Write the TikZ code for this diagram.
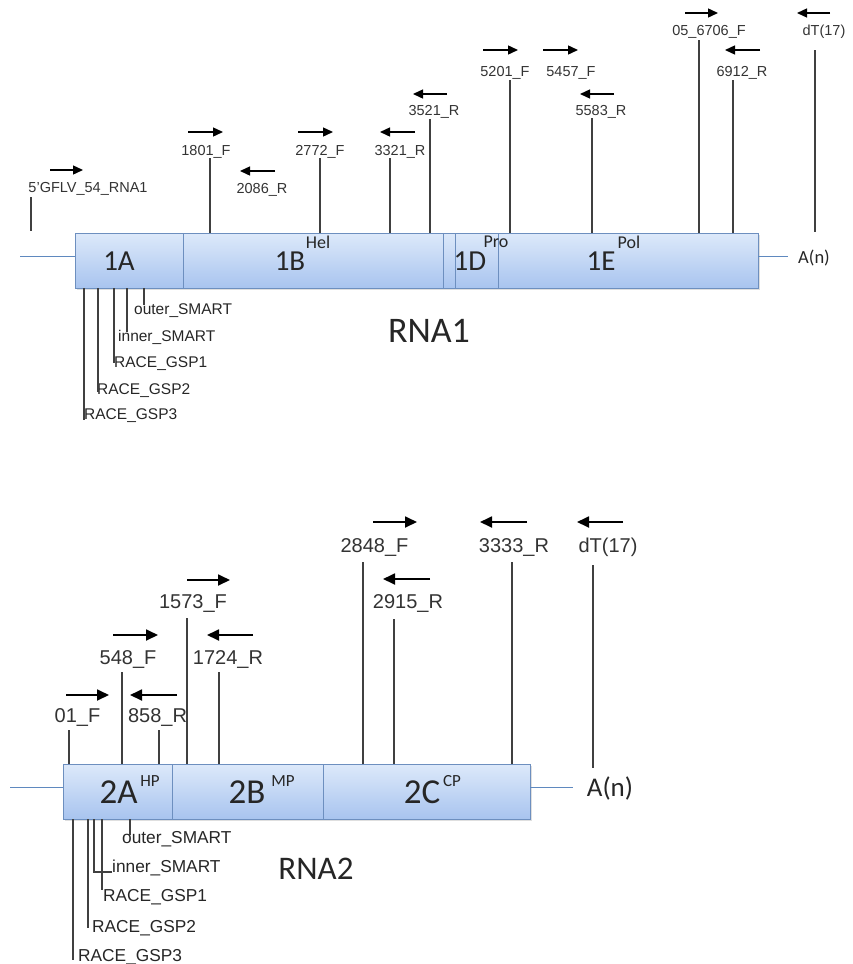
\documentclass[tikz,border=0pt]{standalone}
\usepackage{fontspec}
\setmainfont{Liberation Sans}
\newfontfamily\calfont{Carlito}
\usetikzlibrary{arrows.meta,shadows}
\definecolor{boxtop}{HTML}{DDE9FA}
\definecolor{boxbot}{HTML}{A8C4EF}
\definecolor{boxedge}{HTML}{6D8FBF}
\definecolor{bline}{HTML}{5F89BF}
\begin{document}
\begin{tikzpicture}[x=1pt,y=-1pt,
  lab1/.style={font=\fontsize{14.5}{16}\selectfont, text=black!80, inner sep=0pt},
  lab2/.style={font=\fontsize{20}{22}\selectfont, text=black!80, inner sep=0pt},
  blab1/.style={font=\fontsize{15.5}{17}\selectfont, text=black!85, inner sep=0pt, anchor=west},
  blab2/.style={font=\fontsize{17.3}{19}\selectfont, text=black!85, inner sep=0pt, anchor=west},
  pl1/.style={draw=black!75, line width=1.2pt},
  pl2/.style={draw=black!75, line width=1.4pt},
  arr1/.style={-{Triangle[length=10pt,width=9pt]}, line width=1.4pt, black},
  arr2/.style={-{Triangle[length=12pt,width=11pt]}, line width=1.8pt, black},
  rnabox/.style={rectangle, draw=boxedge, line width=0.8pt, top color=boxtop, bottom color=boxbot,
    inner sep=0pt, drop shadow={shadow xshift=1.5pt, shadow yshift=-2pt, opacity=0.25}},
  divl/.style={draw=boxedge, line width=0.8pt},
  thin/.style={draw=bline, line width=0.9pt},
  seg1/.style={font=\calfont\fontsize{29}{31}\selectfont, text=black!85, inner sep=0pt},
  sup1/.style={font=\calfont\fontsize{18}{20}\selectfont, text=black!85, inner sep=0pt},
  seg2/.style={font=\calfont\fontsize{35}{37}\selectfont, text=black!85, inner sep=0pt},
  sup2/.style={font=\calfont\fontsize{17}{19}\selectfont, text=black!85, inner sep=0pt},
  title/.style={font=\calfont\fontsize{36}{38}\selectfont, text=black!85, inner sep=0pt}
]
\useasboundingbox (0,0) rectangle (852,964);

%% ================= RNA1 =================
\coordinate (l1a) at (20,256);
\coordinate (r1b) at (788,256);
\node[rnabox, minimum width=683pt, minimum height=55pt] (box1) at (416.5,260.5) {};
\draw[thin] (l1a) -- (l1a -| box1.west);
\draw[thin] (box1.east |- r1b) -- (r1b);
\foreach \dx in {183,443,455,498} \draw[divl] (\dx,233) -- (\dx,288);

\node[seg1] (s1A) at (119,261) {1A};
\node[seg1] (s1B) at (290,261) {1B};
\node[sup1] (h1B) at (318,242) {Hel};
\node[seg1] (s1D) at (470,261) {1D};
\node[sup1] (h1D) at (496,242) {Pro};
\node[seg1] (s1E) at (601,261) {1E};
\node[sup1] (h1E) at (629,242) {Pol};
\node[font=\calfont\fontsize{18.5}{20}\selectfont, text=black!85, inner sep=0pt] (an1) at (814,258) {A(n)};
\node[title] (rna1) at (429,331) {RNA1};

% primers above RNA1
\node[lab1] (p54) at (88,189) {5'GFLV\_54\_RNA1};
\coordinate (p54t) at (31,197); \coordinate (p54b) at (31,231);
\draw[pl1] (p54t) -- (p54b);
\draw[arr1] (50,170) -- (83,170);

\node[lab1] (p1801) at (206,152) {1801\_F};
\coordinate (p1801t) at (210,158);
\draw[pl1] (p1801t) -- (p1801t |- box1.north);
\draw[arr1] (188,132) -- (223,132);

\node[lab1] (p2086) at (262,190) {2086\_R};
\draw[arr1] (275,171) -- (240,171);

\node[lab1] (p2772) at (320,152) {2772\_F};
\coordinate (p2772t) at (320,158);
\draw[pl1] (p2772t) -- (p2772t |- box1.north);
\draw[arr1] (298,132) -- (333,132);

\node[lab1] (p3321) at (400,152) {3321\_R};
\coordinate (p3321t) at (390,158);
\draw[pl1] (p3321t) -- (p3321t |- box1.north);
\draw[arr1] (415,132) -- (380,132);

\node[lab1] (p3521) at (434,112) {3521\_R};
\coordinate (p3521t) at (430,119);
\draw[pl1] (p3521t) -- (p3521t |- box1.north);
\draw[arr1] (447,94) -- (413,94);

\node[lab1] (p5201) at (505,73) {5201\_F};
\coordinate (p5201t) at (510,80);
\draw[pl1] (p5201t) -- (p5201t |- box1.north);
\draw[arr1] (483,50) -- (518,50);

\node[lab1] (p5457) at (571,73) {5457\_F};
\draw[arr1] (543,50) -- (578,50);

\node[lab1] (p5583) at (601,112) {5583\_R};
\coordinate (p5583t) at (592,118);
\draw[pl1] (p5583t) -- (p5583t |- box1.north);
\draw[arr1] (614,94) -- (580,94);

\node[lab1] (p6706) at (709,32) {05\_6706\_F};
\coordinate (p6706t) at (699,40);
\draw[pl1] (p6706t) -- (p6706t |- box1.north);
\draw[arr1] (685,13) -- (718,13);

\node[lab1] (p6912) at (742,73) {6912\_R};
\coordinate (p6912t) at (733,80);
\draw[pl1] (p6912t) -- (p6912t |- box1.north);
\draw[arr1] (760,50) -- (725,50);

\node[lab1] (pdt1) at (824,32) {dT(17)};
\coordinate (pdt1t) at (815,50); \coordinate (pdt1b) at (815,232);
\draw[pl1] (pdt1t) -- (pdt1b);
\draw[arr1] (830,13) -- (797,13);

% primers below RNA1
\node[blab1] (g3a) at (84,416) {RACE\_GSP3};
\node[blab1] (g2a) at (97,391) {RACE\_GSP2};
\node[blab1] (g1a) at (114,364) {RACE\_GSP1};
\node[blab1] (ina) at (118,337) {inner\_SMART};
\node[blab1] (oua) at (134,311) {outer\_SMART};
\coordinate (g3ab) at (84,420);
\coordinate (g2ab) at (98,392);
\coordinate (g1ab) at (114,363);
\coordinate (inab) at (127,332);
\coordinate (ouab) at (144,305);
\foreach \c in {g3ab,g2ab,g1ab,inab,ouab} \draw[pl1] (\c |- box1.south) -- (\c);

%% ================= RNA2 =================
\coordinate (l2a) at (10,787);
\coordinate (r2b) at (573,787);
\node[rnabox, minimum width=467pt, minimum height=55pt] (box2) at (296.5,791.5) {};
\draw[thin] (l2a) -- (l2a -| box2.west);
\draw[thin] (box2.east |- r2b) -- (r2b);
\foreach \dx in {172,323} \draw[divl] (\dx,764) -- (\dx,819);

\node[seg2] (s2A) at (118.5,792) {2A};
\node[sup2] (h2A) at (150,781) {HP};
\node[seg2] (s2B) at (247,792) {2B};
\node[sup2] (h2B) at (283,781) {MP};
\node[seg2] (s2C) at (422,792) {2C};
\node[sup2] (h2C) at (452,781) {CP};
\node[font=\calfont\fontsize{27}{29}\selectfont, text=black!85, inner sep=0pt] (an2) at (610,788) {A(n)};
\node[title, font=\calfont\fontsize{33}{35}\selectfont] (rna2) at (316,869) {RNA2};

% primers above RNA2
\node[lab2] (q01) at (77.5,717) {01\_F};
\coordinate (q01t) at (69,730);
\draw[pl2] (q01t) -- (q01t |- box2.north);
\draw[arr2] (66,695) -- (109,695);

\node[lab2] (q548) at (128,659) {548\_F};
\coordinate (q548t) at (122,672);
\draw[pl2] (q548t) -- (q548t |- box2.north);
\draw[arr2] (113,635) -- (158,635);

\node[lab2] (q858) at (157.5,717) {858\_R};
\coordinate (q858t) at (159,730);
\draw[pl2] (q858t) -- (q858t |- box2.north);
\draw[arr2] (177,695) -- (130,695);

\node[lab2] (q1573) at (193,603) {1573\_F};
\coordinate (q1573t) at (187,618);
\draw[pl2] (q1573t) -- (q1573t |- box2.north);
\draw[arr2] (187,580) -- (230,580);

\node[lab2] (q1724) at (228,659) {1724\_R};
\coordinate (q1724t) at (219,672);
\draw[pl2] (q1724t) -- (q1724t |- box2.north);
\draw[arr2] (253,635) -- (207,635);

\node[lab2] (q2848) at (374.5,547) {2848\_F};
\coordinate (q2848t) at (363,562);
\draw[pl2] (q2848t) -- (q2848t |- box2.north);
\draw[arr2] (373,522) -- (417,522);

\node[lab2] (q2915) at (408,603) {2915\_R};
\coordinate (q2915t) at (394,619);
\draw[pl2] (q2915t) -- (q2915t |- box2.north);
\draw[arr2] (430,579) -- (383,579);

\node[lab2] (q3333) at (514,547) {3333\_R};
\coordinate (q3333t) at (512,562);
\draw[pl2] (q3333t) -- (q3333t |- box2.north);
\draw[arr2] (527,522) -- (480,522);

\node[lab2] (qdt2) at (608,547) {dT(17)};
\coordinate (qdt2t) at (593,565); \coordinate (qdt2b) at (593,768);
\draw[pl2] (qdt2t) -- (qdt2b);
\draw[arr2] (623,522) -- (577,522);

% primers below RNA2
\node[blab2] (g3b) at (78,957) {RACE\_GSP3};
\node[blab2] (g2b) at (92,928) {RACE\_GSP2};
\node[blab2] (g1b) at (103,897) {RACE\_GSP1};
\node[blab2] (inb) at (112,868) {inner\_SMART};
\node[blab2] (oub) at (122,839) {outer\_SMART};
\coordinate (g3bb) at (73,960);
\coordinate (g2bb) at (88,928);
\coordinate (g1bb) at (102,890);
\coordinate (oubb) at (130,835);
\coordinate (inbc) at (94,872);
\foreach \c in {g3bb,g2bb,g1bb,oubb} \draw[pl2] (\c |- box2.south) -- (\c);
\draw[pl2] (inbc |- box2.south) -- (inbc) -- (inbc -| inb.west);
\end{tikzpicture}
\end{document}
